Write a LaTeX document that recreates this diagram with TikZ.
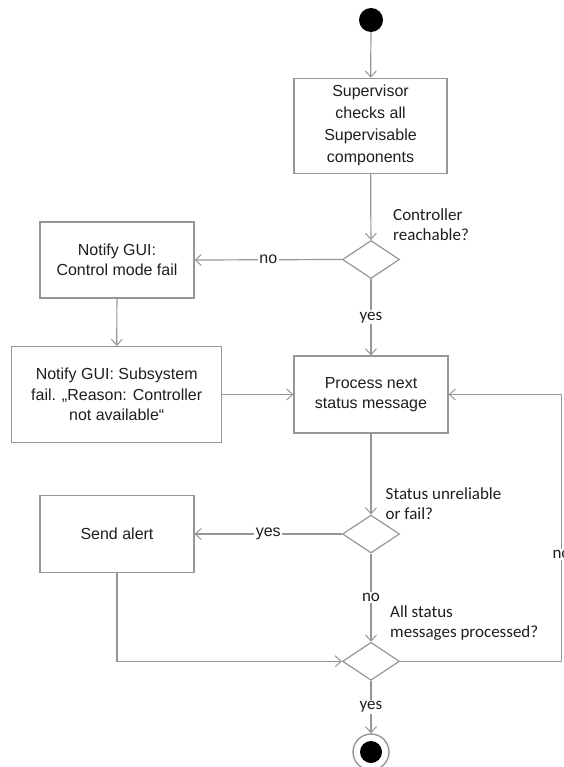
\documentclass[tikz,border=0pt]{standalone}
\usepackage{fontspec}
\setmainfont{Liberation Sans}
\newfontfamily\calib{Carlito}
\usetikzlibrary{shapes.geometric,arrows.meta}
\definecolor{lineg}{RGB}{150,150,150}
\definecolor{txt}{RGB}{30,30,30}
\begin{document}
\begin{tikzpicture}[x=1pt,y=-1pt,
  every node/.style={text=txt},
  action/.style={draw=lineg,line width=1.2pt,rectangle,align=center,
    font=\fontsize{16}{20.5}\selectfont,inner sep=2pt},
  choice/.style={draw=lineg,line width=1.2pt,diamond,inner sep=0pt,
    minimum width=57pt,minimum height=38pt},
  guard/.style={align=left,anchor=west,inner sep=0pt,
    font=\calib\fontsize{17}{20}\selectfont},
  flow/.style={draw=lineg,line width=1.2pt,
    -{Straight Barb[length=6pt,width=11pt,line width=1pt]}},
  hlbl/.style={fill=white,inner sep=1.5pt,font=\fontsize{16}{18}\selectfont},
  vlbl/.style={fill=white,inner sep=1.5pt,font=\calib\fontsize{17}{18}\selectfont},
]
\useasboundingbox (0,0) rectangle (563,767);

% initial and final states
\node[circle,fill=black,minimum size=24pt,inner sep=0pt] (start) at (371,20) {};
\node[circle,draw=lineg,line width=1.4pt,minimum size=36pt,inner sep=0pt,
  path picture={\fill[black] (path picture bounding box.center) circle (11pt);}]
  (final) at (371,752) {};

% actions
\node[action,minimum width=153pt,minimum height=95pt,
  font=\fontsize{16}{22}\selectfont] (sup) at (370.5,125.8)
  {Supervisor\\checks all\\Supervisable\\components};
\node[action,minimum width=154pt,minimum height=76pt] (gui1) at (117,260)
  {Notify GUI:\\Control mode fail};
\node[action,minimum width=210pt,minimum height=96pt] (gui2) at (116.7,394.5)
  {Notify GUI: Subsystem\\fail. „Reason: Controller\\not available“};
\node[action,minimum width=154pt,minimum height=77pt] (proc) at (371,394.5)
  {Process next\\status message};
\node[action,minimum width=154pt,minimum height=77pt] (alert) at (117,534)
  {Send alert};

% decisions
\node[choice] (d1) at (371,259.5) {};
\node[choice] (d2) at (371,534) {};
\node[choice] (d3) at (371,661.3) {};

% decision questions
\node[guard] (q1) at (393,225) {Controller\\reachable?};
\node[guard] (q2) at (385.5,504) {Status unreliable\\or fail?};
\node[guard] (q3) at (390,623) {All status\\messages processed?};

% loop corner on the right
\coordinate (rc) at (561.5,661.3);

% control flow
\draw[flow] (start) -- (sup);
\draw[flow] (sup) -- (d1);
\draw[flow] (d1.west) -- node[hlbl] {no} (gui1.east);
\draw[flow] (d1.south) -- node[vlbl] {yes} (proc.north);
\draw[flow] (gui1) -- (gui2);
\draw[flow] (gui2.east) -- (proc.west);
\draw[flow] (proc.south) -- (d2.north);
\draw[flow] (d2.west) -- node[hlbl] {yes} (alert.east);
\draw[flow] (d2.south) -- node[vlbl] {no} (d3.north);
\draw[flow] (alert.south) |- (d3.west);
\draw[flow] (d3.east) -- (rc) -- node[vlbl,pos=0.4] {no} (rc |- proc.east) -- (proc.east);
\draw[flow] (d3.south) -- node[vlbl] {yes} (final.north);
\end{tikzpicture}
\end{document}
